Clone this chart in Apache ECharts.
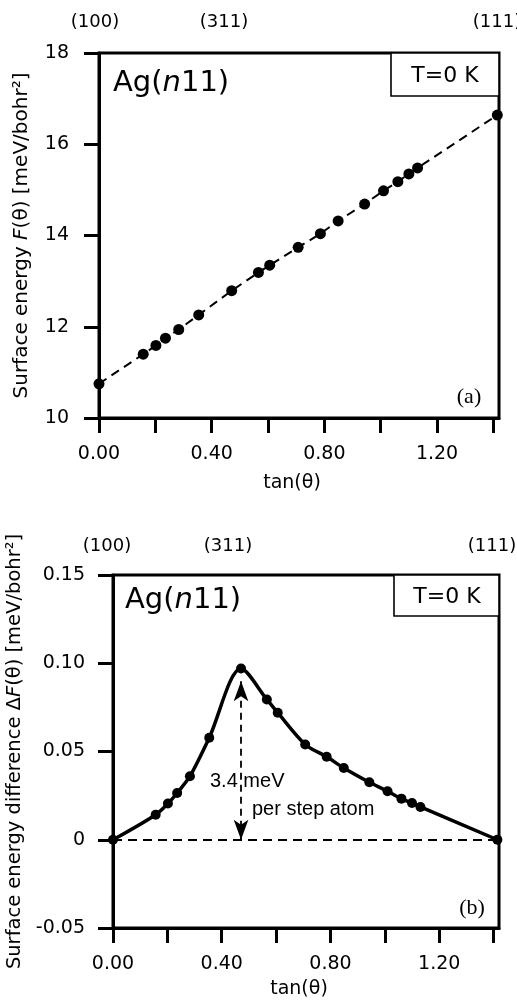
<!DOCTYPE html>
<html><head><meta charset="utf-8">
<script src="https://cdn.jsdelivr.net/npm/echarts@6/dist/echarts.min.js"></script>
<style>html,body{margin:0;padding:0;background:#fff}#c{width:517px;height:1004px}</style>
</head><body><div id="c"></div>
<script>
// ---- data ----
const tanTheta = [0, 0.157, 0.202, 0.236, 0.283, 0.354, 0.471, 0.566, 0.606, 0.707, 0.786, 0.849, 0.943, 1.010, 1.061, 1.100, 1.131, 1.414];
const surfaceEnergy = [10.75, 11.40, 11.59, 11.75, 11.94, 12.26, 12.79, 13.19, 13.35, 13.74, 14.04, 14.32, 14.69, 14.98, 15.18, 15.35, 15.48, 16.64];
const energyDiff = [0, 0.0142, 0.0205, 0.0265, 0.036, 0.0578, 0.097, 0.0795, 0.072, 0.054, 0.047, 0.0407, 0.0326, 0.0275, 0.0233, 0.0208, 0.0186, 0];
const xTicks = [0, 0.2, 0.4, 0.6, 0.8, 1.0, 1.2, 1.4];
const xTickLabels = [0, 0.4, 0.8, 1.2];
const yTicksA = [10, 12, 14, 16, 18];
const yTicksB = [-0.05, 0, 0.05, 0.10, 0.15];
const orientLabels = ['(100)', '(311)', '(111)'];
const arrowX = 0.471;          // (311) step-energy arrow
const arrowFrom = 0, arrowTo = 0.0898;
const zeroLine = [[0, 0], [1.414, 0]];

const FONT = 'DejaVu Sans';
const black = '#000';

function xAxisDef(gi) {
  return {
    gridIndex: gi, type: 'value', min: 0, max: 1.42,
    axisLine: {show: true, onZero: false, lineStyle: {color: black, width: 3}},
    axisTick: {show: true, length: 15, customValues: xTicks, lineStyle: {color: black, width: 3}},
    axisLabel: {customValues: xTickLabels, formatter: v => v.toFixed(2), margin: 27,
      fontSize: 19, fontFamily: FONT, color: black},
    splitLine: {show: false},
    name: 'tan(θ)', nameLocation: 'middle', nameGap: gi === 0 ? 56 : 52,
    nameTextStyle: {fontSize: 19, fontFamily: FONT, color: black, padding: [0, 14, 0, 0]}
  };
}
function yAxisDef(gi, min, max, ticks, fmt, name, gap, margin, fs) {
  return {
    gridIndex: gi, type: 'value', min: min, max: max,
    axisLine: {show: true, onZero: false, lineStyle: {color: black, width: 3}},
    axisTick: {show: true, length: 15, customValues: ticks, lineStyle: {color: black, width: 3}},
    axisLabel: {customValues: ticks, formatter: fmt, margin: margin,
      fontSize: 19, fontFamily: FONT, color: black},
    splitLine: {show: false},
    name: name, nameLocation: 'middle', nameGap: gap, nameRotate: 90,
    nameTextStyle: {fontSize: fs, fontFamily: FONT, color: black,
      rich: {a: {fontSize: fs, fontFamily: FONT, color: black},
             i: {fontSize: fs, fontFamily: FONT, fontStyle: 'italic', color: black}}}
  };
}

function txt(x, y, text, size, opts) {
  return {type: 'text', x: x, y: y, z: 50,
    style: Object.assign({text: text, fill: black, fontSize: size, fontFamily: FONT,
      align: 'center', verticalAlign: 'middle'}, opts || {})};
}
const agRich = {a: {fontSize: 29, fontFamily: FONT, color: black},
                i: {fontSize: 29, fontFamily: FONT, fontStyle: 'italic', color: black}};

const chart = echarts.init(document.getElementById('c'), null, {renderer: 'canvas'});
chart.setOption({
  animation: false,
  backgroundColor: '#fff',
  grid: [
    {left: 99, right: 18, top: 53, height: 365, show: true, borderColor: black, borderWidth: 3,
     backgroundColor: 'transparent', containLabel: false, outerBoundsMode: 'none'},
    {left: 113, right: 18, top: 575, height: 353, show: true, borderColor: black, borderWidth: 3,
     backgroundColor: 'transparent', containLabel: false, outerBoundsMode: 'none'}
  ],
  xAxis: [xAxisDef(0), xAxisDef(1)],
  yAxis: [
    yAxisDef(0, 10, 18, yTicksA, v => String(v),
      '{a|Surface energy }{i|F}{a|(θ) [meV/bohr²]}', 67, 30, 20),
    yAxisDef(1, -0.05, 0.15, yTicksB, v => Math.abs(v) < 1e-9 ? '0' : v.toFixed(2),
      '{a|Surface energy difference Δ}{i|F}{a|(θ) [meV/bohr²]}', 81, 28, 19.5)
  ],
  series: [
    {
      type: 'line', xAxisIndex: 0, yAxisIndex: 0,
      data: tanTheta.map((x, i) => [x, surfaceEnergy[i]]),
      symbol: 'circle', symbolSize: 11,
      itemStyle: {color: black},
      lineStyle: {color: black, width: 2, type: [9, 6]}
    },
    {
      type: 'line', xAxisIndex: 1, yAxisIndex: 1,
      data: tanTheta.map((x, i) => [x, energyDiff[i]]),
      smooth: 0.3,
      symbol: 'circle', symbolSize: 10,
      itemStyle: {color: black},
      lineStyle: {color: black, width: 3.5},
      markLine: {
        silent: true, animation: false,
        label: {show: false},
        emphasis: {disabled: true},
        data: [
          [{coord: zeroLine[0], symbol: 'none', lineStyle: {color: black, width: 1.8, type: [9, 6]}},
           {coord: zeroLine[1], symbol: 'none'}],
          [{coord: [arrowX, arrowFrom], symbol: 'arrow', symbolSize: [11, 20],
            lineStyle: {color: black, width: 1.8, type: [7, 5]}},
           {coord: [arrowX, arrowTo], symbol: 'arrow', symbolSize: [11, 20]}]
        ]
      }
    }
  ],
  graphic: [
    // orientation labels
    txt(95, 22, orientLabels[0], 18), txt(224, 22, orientLabels[1], 18), txt(497, 22, orientLabels[2], 18),
    txt(107, 546, orientLabels[0], 18), txt(228, 546, orientLabels[1], 18), txt(492, 546, orientLabels[2], 18),
    // Ag(n11)
    {type: 'text', x: 113, y: 83, z: 50, style: {text: '{a|Ag(}{i|n}{a|11)}', rich: agRich, verticalAlign: 'middle', align: 'left'}},
    {type: 'text', x: 125, y: 600, z: 50, style: {text: '{a|Ag(}{i|n}{a|11)}', rich: agRich, verticalAlign: 'middle', align: 'left'}},
    // T=0 K boxes
    {type: 'rect', z: 40, shape: {x: 391, y: 53, width: 108, height: 43}, style: {fill: '#fff', stroke: black, lineWidth: 1.6}},
    txt(445, 76, 'T=0 K', 22),
    {type: 'rect', z: 40, shape: {x: 394, y: 575, width: 105, height: 41}, style: {fill: '#fff', stroke: black, lineWidth: 1.6}},
    txt(447, 597, 'T=0 K', 22),
    // panel tags
    txt(469, 397, '(a)', 22, {fontFamily: 'Liberation Serif'}),
    txt(472, 908, '(b)', 22, {fontFamily: 'Liberation Serif'}),
    // annotation
    txt(210, 781, '3.4 meV', 20, {fontFamily: 'Liberation Sans', align: 'left'}),
    txt(252, 809, 'per step atom', 20, {fontFamily: 'Liberation Sans', align: 'left'})
  ]
});
</script>
</body></html>
